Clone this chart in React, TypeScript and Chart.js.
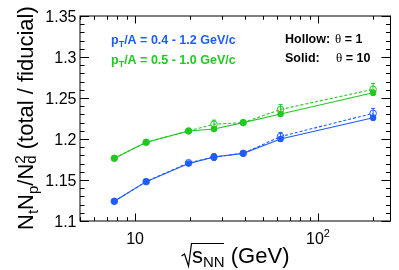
import React, { useEffect, useRef } from "react";
import { Chart, registerables } from "chart.js";

Chart.register(...registerables);

// ---- data ----
const energies = [7.7, 11.5, 19.6, 27, 39, 62.4, 200];
const blueSolid = [1.124, 1.148, 1.17, 1.178, 1.1825, 1.2, 1.226];
const blueHollow = [1.124, 1.148, 1.171, 1.178, 1.1825, 1.203, 1.2313];
const greenSolid = [1.1765, 1.196, 1.2098, 1.2122, 1.22, 1.2305, 1.2565];
const greenHollow = [1.1765, 1.196, 1.2098, 1.218, 1.22, 1.236, 1.2606];
const blueSolidErr = [0.001, 0.001, 0.001, 0.002, 0.001, 0.002, 0.003];
const blueHollowErr = [0.002, 0.002, 0.002, 0.004, 0.003, 0.005, 0.006];
const greenSolidErr = [0.001, 0.001, 0.001, 0.002, 0.001, 0.002, 0.003];
const greenHollowErr = [0.002, 0.002, 0.002, 0.005, 0.003, 0.006, 0.007];

const yTickValues = [1.1, 1.15, 1.2, 1.25, 1.3, 1.35];
const yTickLabels = ["1.1", "1.15", "1.2", "1.25", "1.3", "1.35"];
const xMajorValues = [10, 100];
const xMajorBase = ["10", "10"];
const xMajorSup = ["", "2"];

const X_MIN = 5;
const X_MAX = 249;
const Y_MIN = 1.1;
const Y_MAX = 1.35;

const BLUE = "rgb(30,92,255)";
const GREEN = "rgb(34,200,34)";
const SANS = '"Liberation Sans", Arial, sans-serif';
const SERIF = '"Liberation Serif", "Times New Roman", serif';

type Part = { t: string; font: string; dy?: number; noAdvance?: boolean; color?: string };

function drawParts(ctx: CanvasRenderingContext2D, parts: Part[], x: number, y: number) {
  let cx = x;
  for (const p of parts) {
    ctx.font = p.font;
    if (p.color) ctx.fillStyle = p.color;
    ctx.fillText(p.t, cx, y + (p.dy || 0));
    if (!p.noAdvance) cx += ctx.measureText(p.t).width;
  }
  return cx;
}

const errorBars = {
  id: "errorBars",
  beforeDatasetsDraw(chart: any) {
    const { ctx } = chart;
    const ys = chart.scales.y;
    ctx.save();
    chart.data.datasets.forEach((ds: any, i: number) => {
      const meta = chart.getDatasetMeta(i);
      const errs: number[] = ds.errors || [];
      ctx.strokeStyle = ds.borderColor;
      ctx.lineWidth = 1;
      meta.data.forEach((pt: any, j: number) => {
        const v = ds.data[j].y;
        const e = errs[j] || 0;
        const y1 = ys.getPixelForValue(v + e);
        const y2 = ys.getPixelForValue(v - e);
        ctx.beginPath();
        ctx.moveTo(pt.x, y1);
        ctx.lineTo(pt.x, y2);
        ctx.moveTo(pt.x - 2, y1);
        ctx.lineTo(pt.x + 2, y1);
        ctx.moveTo(pt.x - 2, y2);
        ctx.lineTo(pt.x + 2, y2);
        ctx.stroke();
      });
    });
    ctx.restore();
  },
};

const rootFrame = {
  id: "rootFrame",
  afterDraw(chart: any) {
    const { ctx, chartArea: a } = chart;
    const xs = chart.scales.x;
    const ys = chart.scales.y;
    ctx.save();
    ctx.strokeStyle = "#000";
    ctx.lineWidth = 1;
    ctx.strokeRect(a.left, a.top, a.right - a.left, a.bottom - a.top);

    // y ticks (left & right)
    ctx.beginPath();
    for (let i = 0; i <= 25; i++) {
      const v = Y_MIN + i * 0.01;
      const py = Math.round(ys.getPixelForValue(v)) + 0.5;
      const len = i % 5 === 0 ? 9 : 4.5;
      ctx.moveTo(a.left, py);
      ctx.lineTo(a.left + len, py);
      ctx.moveTo(a.right, py);
      ctx.lineTo(a.right - len, py);
    }
    // x ticks (bottom & top)
    for (const dec of [1, 10, 100]) {
      for (let m = 1; m <= 9; m++) {
        const v = m * dec;
        if (v < X_MIN || v > X_MAX) continue;
        const px = Math.round(xs.getPixelForValue(v)) + 0.5;
        const len = m === 1 ? 7.5 : 3.8;
        ctx.moveTo(px, a.bottom);
        ctx.lineTo(px, a.bottom - len);
        ctx.moveTo(px, a.top);
        ctx.lineTo(px, a.top + len);
      }
    }
    ctx.stroke();

    // y tick labels
    ctx.fillStyle = "#000";
    ctx.font = `16px ${SANS}`;
    ctx.textAlign = "right";
    ctx.textBaseline = "alphabetic";
    yTickValues.forEach((v, i) => {
      const py = ys.getPixelForValue(v);
      ctx.fillText(yTickLabels[i], a.left - 3.5, py + 6);
    });

    // x tick labels
    ctx.textAlign = "left";
    xMajorValues.forEach((v, i) => {
      const px = xs.getPixelForValue(v);
      ctx.font = `16px ${SANS}`;
      const wb = ctx.measureText(xMajorBase[i]).width;
      ctx.font = `11px ${SANS}`;
      const ws = xMajorSup[i] ? ctx.measureText(xMajorSup[i]).width : 0;
      const start = px - (wb + ws) / 2;
      drawParts(
        ctx,
        [
          { t: xMajorBase[i], font: `16px ${SANS}` },
          { t: xMajorSup[i], font: `11px ${SANS}`, dy: -7 },
        ],
        start,
        243.5
      );
    });

    // x title: sqrt(s_NN) (GeV)
    ctx.lineWidth = 1.2;
    ctx.beginPath();
    ctx.moveTo(181.5, 256);
    ctx.lineTo(184.5, 254);
    ctx.lineTo(188.5, 266);
    ctx.lineTo(191.5, 243.5);
    ctx.lineTo(224, 243.5);
    ctx.stroke();
    drawParts(
      ctx,
      [
        { t: "s", font: `22px ${SANS}` },
        { t: "NN", font: `15px ${SANS}`, dy: 4 },
        { t: " (GeV)", font: `22px ${SANS}` },
      ],
      192,
      263
    );

    // y title
    ctx.save();
    ctx.translate(33, 230);
    ctx.rotate(-Math.PI / 2);
    const big = `22px ${SANS}`;
    const small = `15px ${SANS}`;
    drawParts(
      ctx,
      [
        { t: "N", font: big },
        { t: "t", font: small, dy: 5 },
        { t: "N", font: big },
        { t: "p", font: small, dy: 5 },
        { t: "/N", font: big },
        { t: "d", font: small, dy: 3, noAdvance: true },
        { t: "2", font: small, dy: -8 },
        { t: " (total / fiducial)", font: big },
      ],
      0,
      0
    );
    ctx.restore();

    // annotations
    const bold = `bold 12.5px ${SANS}`;
    const boldSmall = `bold 9px ${SANS}`;
    drawParts(
      ctx,
      [
        { t: "p", font: bold, color: BLUE },
        { t: "T", font: boldSmall, dy: 3 },
        { t: "/A = 0.4 - 1.2 GeV/c", font: bold },
      ],
      111,
      44
    );
    drawParts(
      ctx,
      [
        { t: "p", font: bold, color: GREEN },
        { t: "T", font: boldSmall, dy: 3 },
        { t: "/A = 0.5 - 1.0 GeV/c", font: bold },
      ],
      111,
      63.5
    );
    ctx.fillStyle = "#000";
    drawParts(ctx, [{ t: "Hollow:", font: bold }], 285, 42.5);
    drawParts(
      ctx,
      [
        { t: "θ", font: `13px ${SERIF}` },
        { t: " = 1", font: bold },
      ],
      335,
      42.5
    );
    drawParts(ctx, [{ t: "Solid:", font: bold }], 285, 62);
    drawParts(
      ctx,
      [
        { t: "θ", font: `13px ${SERIF}` },
        { t: " = 10", font: bold },
      ],
      336,
      62
    );
    ctx.restore();
  },
};

function pts(ys: number[]) {
  return energies.map((e, i) => ({ x: e, y: ys[i] }));
}

export default function App() {
  const ref = useRef<HTMLCanvasElement | null>(null);
  useEffect(() => {
    if (!ref.current) return;
    const solid = (data: number[], errs: number[], color: string) => ({
      data: pts(data),
      errors: errs,
      borderColor: color,
      backgroundColor: color,
      pointBackgroundColor: color,
      pointBorderColor: color,
      pointRadius: 3.2,
      pointBorderWidth: 0,
      borderWidth: 1.1,
      tension: 0,
      fill: false,
    });
    const hollow = (data: number[], errs: number[], color: string) => ({
      data: pts(data),
      errors: errs,
      borderColor: color,
      backgroundColor: "rgba(0,0,0,0)",
      pointBackgroundColor: "rgba(255,255,255,0)",
      pointBorderColor: color,
      pointRadius: 3.3,
      pointBorderWidth: 1,
      borderWidth: 1.1,
      borderDash: [3, 2],
      tension: 0,
      fill: false,
    });
    const chart = new Chart(ref.current, {
      type: "line",
      data: {
        datasets: [
          solid(blueSolid, blueSolidErr, BLUE),
          solid(greenSolid, greenSolidErr, GREEN),
          hollow(blueHollow, blueHollowErr, BLUE),
          hollow(greenHollow, greenHollowErr, GREEN),
        ] as any,
      },
      options: {
        responsive: false,
        animation: false,
        devicePixelRatio: 1,
        layout: { padding: { left: 80, top: 16, right: 8.5, bottom: 49 } },
        plugins: { legend: { display: false }, tooltip: { enabled: false } },
        scales: {
          x: { type: "logarithmic", min: X_MIN, max: X_MAX, display: false },
          y: { type: "linear", min: Y_MIN, max: Y_MAX, display: false },
        },
      },
      plugins: [errorBars, rootFrame],
    });
    return () => chart.destroy();
  }, []);
  return (
    <div style={{ position: "fixed", left: 0, top: 0, width: 399, height: 270, background: "#fff" }}>
      <canvas ref={ref} width={399} height={270} style={{ display: "block" }} />
    </div>
  );
}
